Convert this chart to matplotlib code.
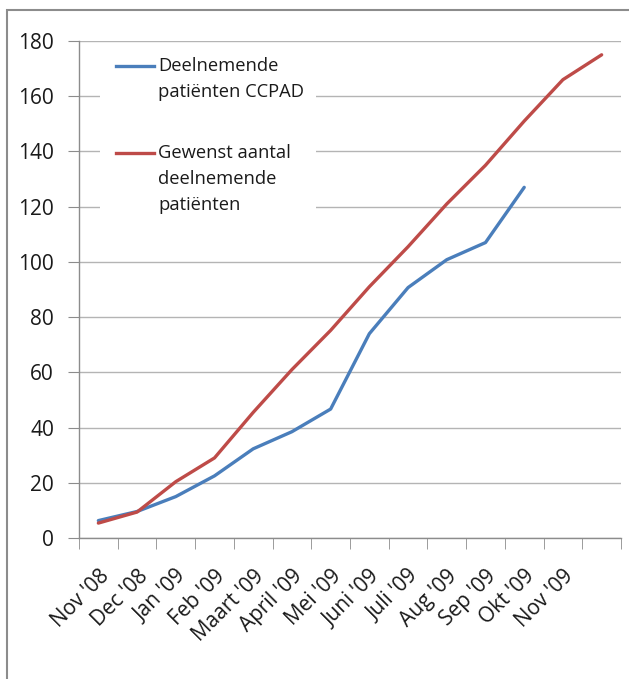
import numpy as np
import matplotlib
matplotlib.use("Agg")
import matplotlib.pyplot as plt
from matplotlib.patches import Rectangle

plt.rcParams['font.family'] = ['Open Sans', 'DejaVu Sans']

# Data
months = ["Nov '08", "Dec '08", "Jan '09", "Feb '09", "Maart '09", "April '09",
          "Mei '09", "Juni '09", "Juli '09", "Aug '09", "Sep '09", "Okt '09",
          "Nov '09", ""]
deelnemend = [6.3, 9.6, 15, 22.5, 32.3, 38.5, 46.7, 74, 90.7, 100.8, 107, 127,
              np.nan, np.nan]
gewenst = [5.4, 9.4, 20.4, 29, 45.5, 61, 75.2, 91, 105.5, 121, 135, 151, 166, 175]
labels = ["Deelnemende\npatiënten CCPAD", "Gewenst aantal\ndeelnemende\npatiënten"]
colors = ["#4a7ebb", "#be4b48"]

W, H = 629, 679
fig = plt.figure(figsize=(W / 100, H / 100), dpi=100)
ax = fig.add_axes([79 / W, 1 - 538 / H, 542 / W, 497 / H])

x = np.arange(len(months))
for vals, c in zip([deelnemend, gewenst], colors):
    ax.plot(x, vals, color=c, lw=2.4, solid_capstyle='round', zorder=3)

ax.set_xlim(-0.5, len(months) - 0.5)
ax.set_ylim(0, 180)
ax.set_yticks(np.arange(0, 181, 20))
ax.set_xticks(x)
ax.set_xticklabels(months, rotation=45, ha='right', rotation_mode='anchor')
ax.set_xticks(np.arange(len(months) + 1) - 0.5, minor=True)

grey = "#8c8c8c"
ax.grid(axis='y', color="#b4b4b4", lw=1.0, zorder=0)
ax.set_axisbelow(True)
for s in ['top', 'right']:
    ax.spines[s].set_visible(False)
for s in ['left', 'bottom']:
    ax.spines[s].set_color(grey)
    ax.spines[s].set_linewidth(1.0)

tick_fs = 15
ax.tick_params(axis='y', length=8, color=grey, pad=10, labelsize=tick_fs,
               labelcolor='#1a1a1a')
ax.tick_params(axis='x', which='major', length=0, pad=20, labelsize=tick_fs,
               labelcolor='#1a1a1a')
ax.tick_params(axis='x', which='minor', length=8, color=grey)

# Legend drawn by hand (wrapped labels, handle at first line)
legend_fs = 13.2
ax.add_patch(Rectangle((0.039, 0.62), 0.398, 0.372, transform=ax.transAxes,
                       facecolor='white', edgecolor='none', zorder=2))
line_step = 26 / 497
for lab, c, y0 in zip(labels, colors, [0.950, 0.775]):
    ax.plot([0.068, 0.138], [y0, y0], color=c, lw=2.4, transform=ax.transAxes,
            clip_on=False, zorder=4)
    for i, part in enumerate(lab.split("\n")):
        ax.text(0.146, y0 - i * line_step, part, transform=ax.transAxes,
                va='center', ha='left', fontsize=legend_fs, color='#1a1a1a',
                zorder=4)

# Chart border
fig.patches.append(Rectangle((7 / W, -0.1), 1.2, 1.1 - 10 / H,
                             transform=fig.transFigure, fill=False,
                             edgecolor=grey, lw=1.5))

fig.savefig("out.png", dpi=100)
